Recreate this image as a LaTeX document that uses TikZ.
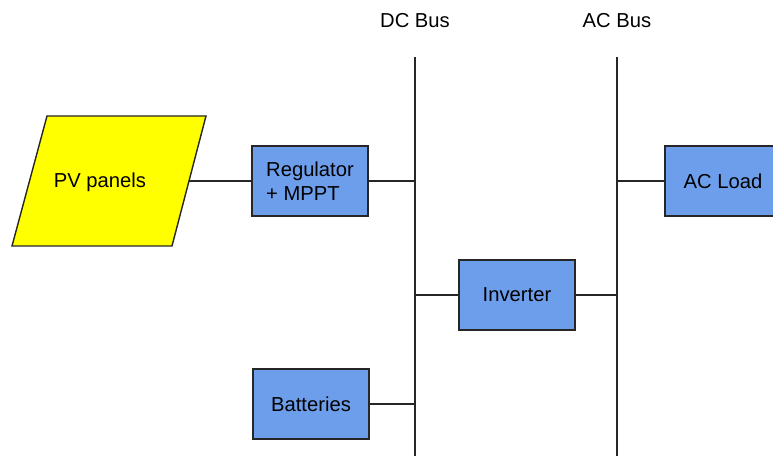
\documentclass[tikz,border=0pt]{standalone}
\usepackage{fontspec}
\setmainfont{Liberation Sans}
\usepackage{xcolor}

\definecolor{boxblue}{HTML}{6D9EEB}
\definecolor{pvyellow}{HTML}{FFFF00}

\begin{document}
\begin{tikzpicture}[
every node/.style={font=\fontsize{11.5}{13.5}\selectfont},
block/.style={rectangle,draw=black!85,line width=0.8pt,fill=boxblue,
  minimum width=2.32cm,minimum height=1.4cm,align=left},
bus/.style={line width=1.1pt,black!85},
wire/.style={line width=0.8pt,black!85}
]
\useasboundingbox (0,0) rectangle (15.46,9.12);

% PV panels (parallelogram)
\coordinate (pvtl) at (0.94,6.8);
\coordinate (pvtr) at (4.12,6.8);
\coordinate (pvbr) at (3.44,4.2);
\coordinate (pvbl) at (0.24,4.2);
\coordinate (pvright) at (3.78,5.5);
\draw[black!85,line width=0.8pt,fill=pvyellow]
  (pvtl) -- (pvtr) -- (pvbr) -- (pvbl) -- cycle;
\node (pv) at (2.0,5.48) {PV panels};

% Blocks
\node[block] (reg) at (6.2,5.5) {Regulator\\+ MPPT};
\node[block] (batt) at (6.22,1.04) {Batteries};
\node[block] (inv) at (10.34,3.22) {Inverter};
\node[block] (load) at (14.46,5.5) {AC Load};

% Buses
\coordinate (dctop) at (8.3,7.98);
\coordinate (dcbot) at (8.3,0);
\coordinate (actop) at (12.34,7.98);
\coordinate (acbot) at (12.34,0);
\node (dclabel) at (8.3,8.7) {DC Bus};
\node (aclabel) at (12.34,8.7) {AC Bus};
\draw[bus] (dctop) -- (dcbot);
\draw[bus] (actop) -- (acbot);

% Wires
\draw[wire] (pvright) -- (reg.west);
\draw[wire] (reg.east) -- (reg.east -| dctop);
\draw[wire] (batt.east) -- (batt.east -| dctop);
\draw[wire] (inv.west -| dctop) -- (inv.west);
\draw[wire] (inv.east) -- (inv.east -| actop);
\draw[wire] (load.west -| actop) -- (load.west);

\end{tikzpicture}
\end{document}
